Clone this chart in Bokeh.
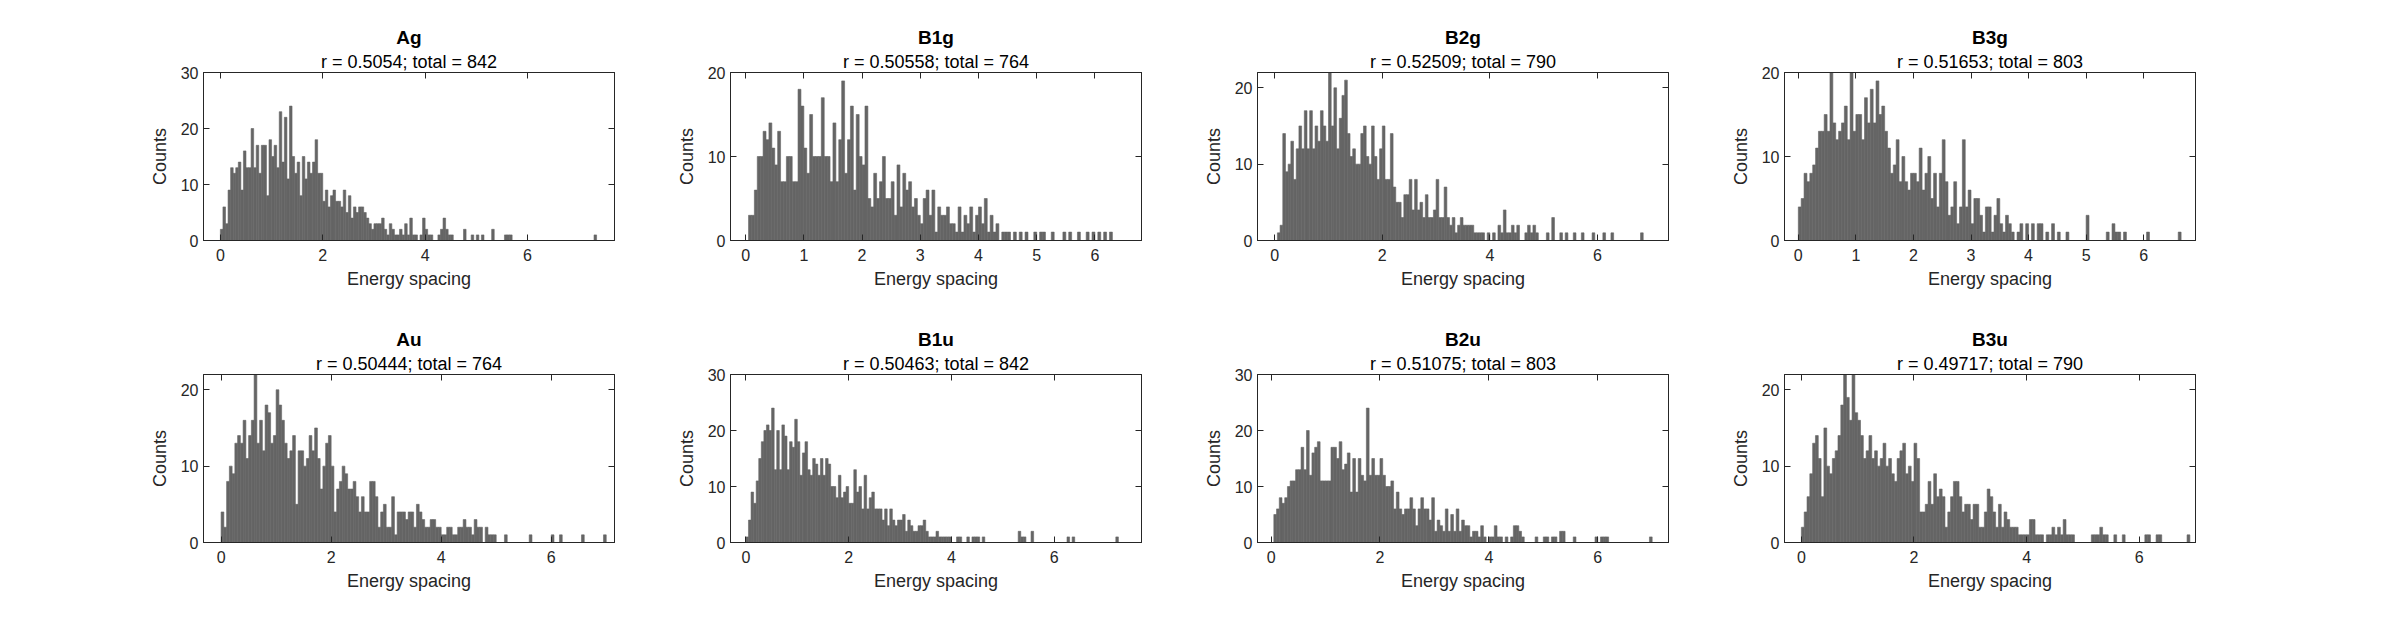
import numpy as np
from bokeh.plotting import figure
from bokeh.layouts import gridplot, row
from bokeh.models import Range1d, LinearAxis, FixedTicker, Title, Spacer
from bokeh.embed import file_html
from bokeh.resources import INLINE

BIN_WIDTH = 0.05
FONT = "Liberation Sans"
TEXT = "#262626"
BAR = "#656565"

names = ["Ag", "B1g", "B2g", "B3g", "Au", "B1u", "B2u", "B3u"]
r_values = ["0.5054", "0.50558", "0.52509", "0.51653", "0.50444", "0.50463", "0.51075", "0.49717"]
totals = [842, 764, 790, 803, 764, 842, 803, 790]
x_limits = [(-0.33, 7.7), (-0.26, 6.8), (-0.32, 7.32), (-0.24, 6.9),
            (-0.32, 7.15), (-0.3, 7.7), (-0.25, 7.3), (-0.3, 7.0)]
y_max = [30, 20, 22, 20, 22, 30, 30, 22]
x_ticks = [[0, 2, 4, 6], [0, 1, 2, 3, 4, 5, 6], [0, 2, 4, 6], [0, 1, 2, 3, 4, 5, 6],
           [0, 2, 4, 6], [0, 2, 4, 6], [0, 2, 4, 6], [0, 2, 4, 6]]
y_ticks = [[0, 10, 20, 30], [0, 10, 20], [0, 10, 20], [0, 10, 20],
           [0, 10, 20], [0, 10, 20, 30], [0, 10, 20, 30], [0, 10, 20]]

# counts per 0.05-wide bin, starting at 0
counts_ag = [
    2, 6, 3, 9, 13, 12, 13, 14, 9, 16, 13, 13, 20, 13, 17, 12, 17, 17, 8, 18,
    15, 17, 13, 23, 14, 22, 11, 24, 15, 12, 14, 8, 15, 11, 14, 12, 14, 18, 12, 12,
    7, 9, 6, 8, 9, 7, 7, 6, 9, 5, 8, 4, 6, 5, 6, 6, 5, 4, 3, 2,
    3, 3, 3, 4, 2, 1, 3, 2, 1, 1, 2, 1, 3, 1, 4, 1, 1, 0, 1, 4,
    2, 1, 1, 0, 0, 1, 2, 4, 2, 1, 1, 0, 0, 0, 0, 2, 0, 0, 1, 0,
    1, 0, 1, 0, 0, 0, 2, 0, 0, 0, 0, 1, 1, 1, 0, 0, 0, 0, 0, 0,
    0, 0, 0, 0, 0, 0, 0, 0, 0, 0, 0, 0, 0, 0, 0, 0, 0, 0, 0, 0,
    0, 0, 0, 0, 0, 0, 1,
]
counts_b1g = [
    0, 3, 3, 6, 10, 10, 13, 12, 14, 11, 9, 13, 7, 7, 10, 10, 7, 7, 18, 16,
    11, 8, 15, 10, 10, 10, 17, 10, 10, 7, 14, 7, 12, 19, 8, 12, 16, 6, 15, 10,
    9, 16, 5, 4, 8, 5, 7, 10, 5, 5, 7, 3, 9, 4, 8, 6, 7, 4, 5, 3,
    2, 5, 6, 3, 6, 1, 4, 3, 3, 4, 2, 2, 1, 4, 1, 3, 2, 4, 1, 3,
    4, 2, 5, 1, 3, 1, 2, 0, 1, 1, 1, 0, 1, 0, 1, 0, 1, 0, 0, 1,
    0, 1, 1, 0, 0, 1, 0, 0, 0, 1, 0, 1, 0, 0, 1, 0, 0, 1, 0, 1,
    0, 1, 0, 1, 0, 1,
]
counts_b2g = [
    0, 1, 2, 14, 9, 10, 13, 8, 12, 15, 12, 17, 12, 17, 12, 15, 13, 17, 15, 13,
    22, 15, 20, 12, 16, 19, 21, 14, 11, 12, 10, 10, 14, 15, 11, 10, 15, 11, 8, 12,
    15, 8, 8, 14, 7, 5, 5, 3, 6, 6, 8, 4, 8, 4, 5, 3, 6, 3, 3, 4,
    8, 3, 3, 7, 3, 2, 3, 1, 2, 3, 2, 2, 2, 2, 1, 1, 1, 1, 0, 1,
    0, 1, 0, 2, 1, 4, 1, 1, 2, 1, 2, 0, 0, 1, 2, 1, 2, 1, 0, 0,
    0, 1, 0, 3, 0, 0, 1, 0, 1, 0, 0, 1, 0, 0, 1, 0, 0, 0, 1, 0,
    0, 0, 1, 0, 0, 1, 0, 0, 0, 0, 0, 0, 0, 0, 0, 0, 1, 0, 0, 0,
]
counts_b3g = [
    4, 5, 8, 7, 8, 9, 11, 13, 13, 15, 13, 20, 14, 12, 13, 14, 16, 12, 20, 13,
    15, 15, 12, 17, 14, 18, 14, 19, 15, 16, 13, 11, 8, 9, 12, 7, 10, 7, 6, 8,
    8, 7, 11, 6, 8, 10, 5, 8, 4, 8, 12, 7, 3, 4, 7, 2, 4, 12, 4, 6,
    2, 5, 5, 3, 1, 4, 4, 1, 3, 5, 2, 1, 3, 2, 1, 0, 1, 2, 0, 2,
    0, 2, 0, 2, 2, 0, 1, 0, 2, 0, 1, 0, 0, 1, 0, 0, 0, 0, 0, 0,
    3, 0, 0, 0, 0, 0, 0, 1, 0, 2, 1, 1, 0, 1, 0, 0, 0, 0, 0, 0,
    0, 1, 0, 0, 0, 0, 0, 0, 0, 0, 0, 0, 1, 0, 0, 0, 0, 0, 0, 0,
]
counts_au = [
    4, 2, 8, 10, 9, 13, 14, 13, 16, 11, 14, 16, 22, 13, 16, 12, 18, 17, 13, 14,
    20, 18, 16, 13, 11, 12, 14, 5, 12, 12, 10, 11, 14, 12, 15, 11, 7, 10, 13, 14,
    10, 4, 7, 8, 10, 9, 7, 7, 8, 6, 4, 6, 4, 4, 8, 8, 6, 2, 4, 5,
    2, 2, 6, 1, 4, 4, 4, 3, 4, 4, 2, 5, 4, 3, 2, 2, 3, 3, 2, 2,
    1, 1, 2, 2, 1, 1, 2, 2, 3, 2, 2, 1, 3, 2, 2, 0, 2, 1, 1, 1,
    0, 0, 0, 1, 0, 0, 0, 0, 0, 0, 0, 0, 1, 0, 0, 0, 0, 0, 0, 0,
    1, 0, 0, 1, 0, 0, 0, 0, 0, 0, 0, 1, 0, 0, 0, 0, 0, 0, 0, 1,
]
counts_b1u = [
    1, 4, 9, 7, 11, 15, 18, 20, 21, 20, 24, 13, 20, 13, 21, 19, 13, 18, 17, 22,
    18, 12, 16, 18, 13, 12, 15, 14, 12, 15, 12, 15, 14, 10, 10, 8, 12, 8, 9, 10,
    7, 7, 13, 9, 10, 6, 12, 6, 8, 9, 6, 6, 6, 4, 6, 3, 6, 4, 3, 4,
    4, 5, 2, 4, 3, 2, 2, 3, 3, 4, 2, 1, 1, 1, 2, 1, 1, 1, 1, 1,
    0, 0, 1, 1, 0, 0, 1, 0, 1, 1, 1, 0, 1, 0, 0, 0, 0, 0, 0, 0,
    0, 0, 0, 0, 0, 0, 2, 1, 1, 0, 0, 2, 0, 0, 0, 0, 0, 0, 0, 0,
    0, 0, 0, 0, 0, 1, 0, 1, 0, 0, 0, 0, 0, 0, 0, 0, 0, 0, 0, 0,
    0, 0, 0, 0, 1,
]
counts_b2u = [
    0, 5, 6, 8, 7, 8, 10, 11, 11, 13, 13, 17, 13, 20, 12, 16, 17, 18, 11, 11,
    11, 11, 17, 17, 15, 18, 13, 14, 16, 9, 15, 9, 15, 12, 11, 24, 12, 15, 12, 12,
    15, 12, 10, 10, 11, 6, 9, 6, 5, 6, 6, 8, 6, 3, 6, 8, 6, 6, 4, 8,
    2, 4, 3, 2, 6, 2, 5, 2, 6, 2, 4, 3, 3, 1, 2, 2, 1, 3, 1, 0,
    1, 1, 3, 1, 1, 0, 1, 0, 1, 3, 3, 2, 1, 0, 0, 0, 0, 1, 0, 0,
    1, 1, 0, 1, 1, 0, 2, 2, 0, 0, 0, 1, 0, 0, 0, 0, 0, 0, 0, 1,
    0, 1, 1, 1, 0, 0, 0, 0, 0, 0, 0, 0, 0, 0, 0, 0, 0, 0, 0, 1,
]
counts_b3u = [
    2, 4, 6, 9, 13, 14, 11, 6, 15, 10, 9, 11, 12, 14, 18, 22, 19, 16, 22, 17,
    16, 14, 11, 12, 14, 11, 12, 10, 11, 13, 10, 11, 9, 8, 11, 12, 13, 9, 10, 8,
    13, 11, 4, 4, 5, 8, 5, 9, 6, 7, 6, 2, 4, 6, 8, 8, 6, 4, 5, 5,
    3, 5, 5, 2, 2, 4, 7, 6, 4, 2, 5, 2, 4, 3, 2, 2, 2, 1, 1, 1,
    1, 3, 3, 1, 1, 1, 0, 1, 1, 2, 1, 2, 1, 3, 1, 1, 1, 0, 0, 0,
    0, 0, 0, 1, 1, 1, 2, 1, 1, 0, 0, 1, 0, 0, 1, 0, 0, 0, 0, 0,
    0, 0, 1, 1, 0, 0, 1, 1, 0, 0, 0, 0, 0, 0, 0, 0, 0, 1, 0, 0,
]
all_counts = [counts_ag, counts_b1g, counts_b2g, counts_b3g,
              counts_au, counts_b1u, counts_b2u, counts_b3u]


def box_axis(ticks):
    # tick marks only, for the top and right sides of the box
    return LinearAxis(ticker=FixedTicker(ticks=ticks),
                      major_label_overrides={t: "" for t in ticks},
                      major_tick_in=6, major_tick_out=0, minor_tick_line_color=None,
                      axis_line_color=TEXT, major_tick_line_color=TEXT)


def make_panel(i):
    p = figure(width=527, height=302, output_backend="svg", toolbar_location=None,
               x_range=Range1d(*x_limits[i]), y_range=Range1d(0, y_max[i]),
               min_border_left=80, min_border_right=36, min_border_top=72, min_border_bottom=62)
    counts = np.array(all_counts[i])
    centers = np.arange(len(counts)) * BIN_WIDTH + BIN_WIDTH / 2
    p.vbar(x=centers, top=counts, width=BIN_WIDTH, fill_color=BAR,
           line_color=BAR, line_width=0.6)

    p.xgrid.visible = False
    p.ygrid.visible = False
    p.outline_line_color = TEXT

    for ax in (p.xaxis[0], p.yaxis[0]):
        ax.axis_line_color = TEXT
        ax.major_tick_line_color = TEXT
        ax.major_tick_in = 6
        ax.major_tick_out = 0
        ax.minor_tick_line_color = None
        ax.major_label_text_font = FONT
        ax.major_label_text_font_size = "16px"
        ax.major_label_text_color = TEXT
        ax.axis_label_text_font = FONT
        ax.axis_label_text_font_size = "18px"
        ax.axis_label_text_font_style = "normal"
        ax.axis_label_text_color = TEXT
    p.xaxis.ticker = FixedTicker(ticks=x_ticks[i])
    p.yaxis.ticker = FixedTicker(ticks=y_ticks[i])
    p.xaxis.axis_label = "Energy spacing"
    p.yaxis.axis_label = "Counts"
    p.xaxis.major_label_standoff = 8
    p.yaxis.axis_label_standoff = 8

    p.add_layout(box_axis(x_ticks[i]), "above")
    p.add_layout(box_axis(y_ticks[i]), "right")

    sub = "r = %s; total = %d" % (r_values[i], totals[i])
    p.add_layout(Title(text=sub, align="center", text_font=FONT, text_font_size="18px",
                       text_font_style="normal", text_color="black", standoff=2), "above")
    p.add_layout(Title(text=names[i], align="center", text_font=FONT, text_font_size="19px",
                       text_font_style="bold", text_color="black", standoff=2), "above")
    return p


panels = [make_panel(i) for i in range(8)]
grid = gridplot([panels[:4], panels[4:]], toolbar_location=None)
p = row(Spacer(width=123), grid)

open("out.html", "w").write(file_html(p, INLINE))
